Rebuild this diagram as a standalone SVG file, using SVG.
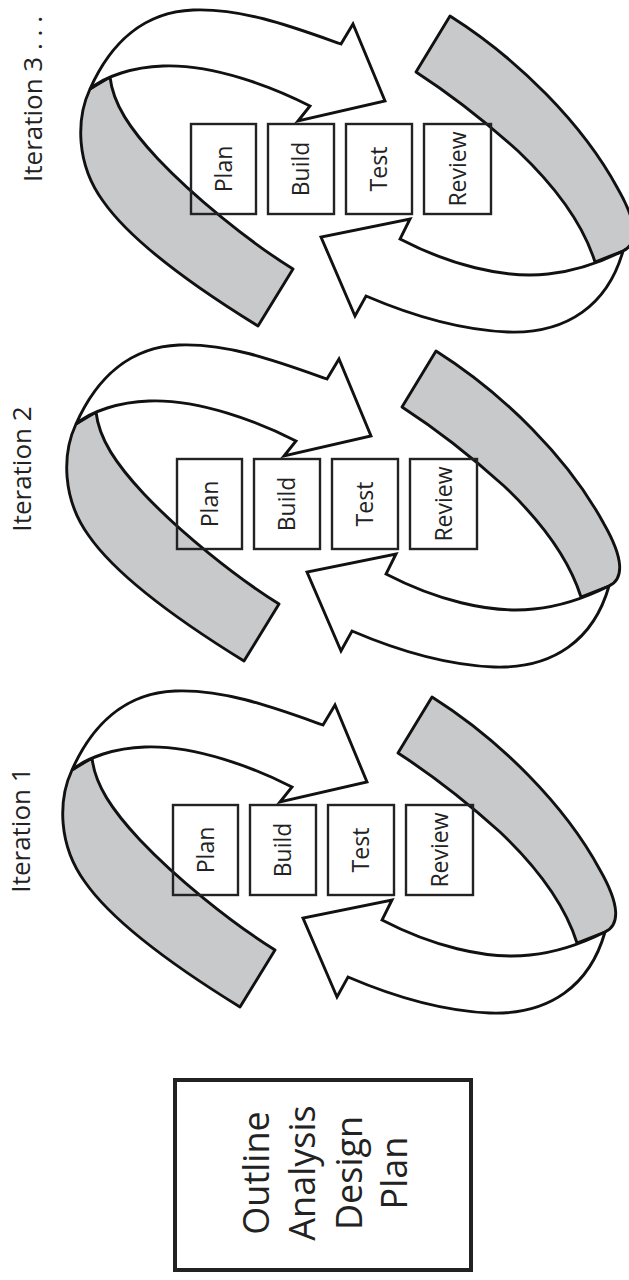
<svg xmlns="http://www.w3.org/2000/svg" width="629" height="1280" viewBox="0 0 629 1280">
  <style>
    .band { fill: #c8c9cb; stroke: #111; stroke-width: 2.9; stroke-linejoin: round; }
    .arrow { fill: #ffffff; stroke: #111; stroke-width: 2.9; stroke-linejoin: miter; }
    .box { fill: none; stroke: #222; stroke-width: 2.4; }
    .lbl { font-family: "Open Sans", "Liberation Sans", sans-serif; font-size: 23px; fill: #222; text-anchor: middle; }
    .iter { font-family: "Open Sans", "Liberation Sans", sans-serif; font-size: 26px; fill: #222; }
    .big { font-family: "Open Sans", "Liberation Sans", sans-serif; font-size: 36px; fill: #222; text-anchor: middle; }
  </style>
  <defs>
    <!-- one iteration cycle: two twisted ribbons around four stage boxes -->
    <g id="cycle-arrows">
      <path class="band" d="M72,770 C58,800 58,845 85,882 C115,925 180,970 240,1007 L275,950 C230,922 175,877 140,840 C112,810 95,785 92,758 Z"/>
      <path class="band" d="M432,697 C500,740 565,805 600,870 C620,905 620,925 605,932 L577,943 C565,905 540,870 500,832 C470,805 435,777 398,753 Z"/>
      <path class="arrow" d="M72,770 C92,725 125,693 175,691 C225,689 275,708 323,725 L335,705 L367,782 L280,802 L292,787 C255,768 195,745 145,747 C115,748 88,757 72,770 Z"/>
      <path class="arrow" d="M605,932 C590,985 550,1015 490,1013 C440,1011 390,995 348,977 L337,997 L303,918 L392,900 L382,920 C430,945 485,960 530,955 C560,952 585,942 605,932 Z"/>
    </g>
  </defs>

  <g id="connectors">
    <use href="#cycle-arrows"/>
    <use href="#cycle-arrows" transform="translate(4,-346)"/>
    <use href="#cycle-arrows" transform="translate(18,-681)"/>
  </g>

  <!-- Iteration 1 -->
  <g id="iteration-1">
    <text class="iter" transform="translate(30,830) rotate(-90)" text-anchor="middle">Iteration 1</text>
    <g id="it1-plan"><rect class="box" x="173" y="805" width="65" height="90"/><text class="lbl" transform="translate(205.5,850) rotate(-90)" y="8">Plan</text></g>
    <g id="it1-build"><rect class="box" x="250" y="805" width="66" height="90"/><text class="lbl" transform="translate(283,850) rotate(-90)" y="8">Build</text></g>
    <g id="it1-test"><rect class="box" x="328" y="805" width="66" height="90"/><text class="lbl" transform="translate(361,850) rotate(-90)" y="8">Test</text></g>
    <g id="it1-review"><rect class="box" x="406" y="805" width="67" height="90"/><text class="lbl" transform="translate(439.5,850) rotate(-90)" y="8">Review</text></g>
  </g>

  <!-- Iteration 2 -->
  <g id="iteration-2">
    <text class="iter" transform="translate(31,469) rotate(-90)" text-anchor="middle">Iteration 2</text>
    <g transform="translate(4,-346)">
      <g id="it2-plan"><rect class="box" x="173" y="805" width="65" height="90"/><text class="lbl" transform="translate(205.5,850) rotate(-90)" y="8">Plan</text></g>
      <g id="it2-build"><rect class="box" x="250" y="805" width="66" height="90"/><text class="lbl" transform="translate(283,850) rotate(-90)" y="8">Build</text></g>
      <g id="it2-test"><rect class="box" x="328" y="805" width="66" height="90"/><text class="lbl" transform="translate(361,850) rotate(-90)" y="8">Test</text></g>
      <g id="it2-review"><rect class="box" x="406" y="805" width="67" height="90"/><text class="lbl" transform="translate(439.5,850) rotate(-90)" y="8">Review</text></g>
    </g>
  </g>

  <!-- Iteration 3 -->
  <g id="iteration-3">
    <text class="iter" transform="translate(42,182) rotate(-90)" text-anchor="start">Iteration 3 . . .</text>
    <g transform="translate(18,-681)">
      <g id="it3-plan"><rect class="box" x="173" y="805" width="65" height="90"/><text class="lbl" transform="translate(205.5,850) rotate(-90)" y="8">Plan</text></g>
      <g id="it3-build"><rect class="box" x="250" y="805" width="66" height="90"/><text class="lbl" transform="translate(283,850) rotate(-90)" y="8">Build</text></g>
      <g id="it3-test"><rect class="box" x="328" y="805" width="66" height="90"/><text class="lbl" transform="translate(361,850) rotate(-90)" y="8">Test</text></g>
      <g id="it3-review"><rect class="box" x="406" y="805" width="67" height="90"/><text class="lbl" transform="translate(439.5,850) rotate(-90)" y="8">Review</text></g>
    </g>
  </g>

  <!-- Up-front phase -->
  <g id="upfront">
    <rect x="175" y="1080" width="296" height="190" fill="#fff" stroke="#222" stroke-width="4"/>
    <text class="big" transform="translate(269,1173) rotate(-90)">Outline</text>
    <text class="big" transform="translate(315,1173) rotate(-90)">Analysis</text>
    <text class="big" transform="translate(362,1173) rotate(-90)">Design</text>
    <text class="big" transform="translate(407,1173) rotate(-90)">Plan</text>
  </g>
</svg>
